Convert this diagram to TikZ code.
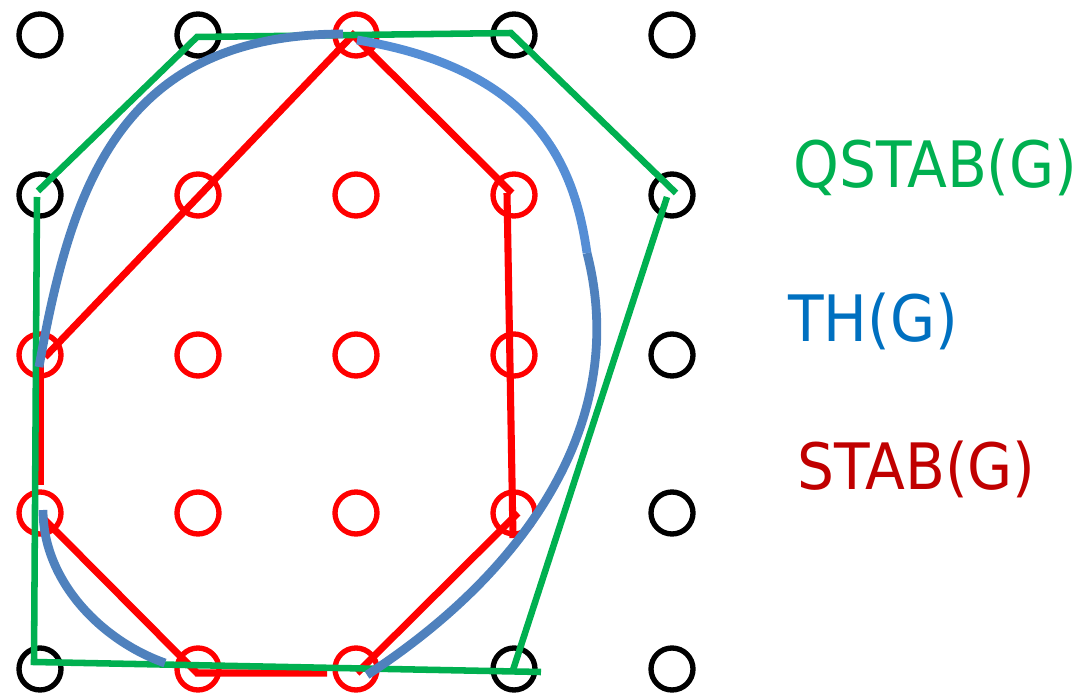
\documentclass[tikz,border=0pt]{standalone}
\usepackage{fontspec}
\newfontfamily\labelfont[FakeStretch=0.91]{DejaVu Sans}
\definecolor{QGreen}{HTML}{00B050}
\definecolor{THBlue}{HTML}{4F81BD}
\definecolor{THBlueLight}{HTML}{558ED5}
\definecolor{THLabel}{HTML}{0070C0}
\definecolor{STABRed}{HTML}{C00000}
\tikzset{
  pt/.style={circle,draw,line width=4pt,minimum size=31.5pt,inner sep=0pt},
  stab/.style={red,line width=5.3pt},
  qstab/.style={QGreen,line width=4.9pt},
  th/.style={THBlue,line width=6.6pt},
  lbl/.style={anchor=base west,inner sep=0pt,font=\labelfont\fontsize{48}{58}\selectfont}
}
\begin{document}
\begin{tikzpicture}[x=0.75pt,y=-0.75pt]
\useasboundingbox (0,0) rectangle (1082,695);

% lattice points, red = inside STAB(G)
\foreach \y/\row [count=\j from 0] in {35/{black,black,red,black,black},
    195/{black,red,red,red,black}, 355/{red,red,red,red,black},
    513/{red,red,red,red,black}, 669/{black,red,red,black,black}}
  \foreach \c [count=\i from 0] in \row
    \node[pt,draw=\c] (v\i\j) at ({40+158*\i},\y) {};

% STAB(G)
\draw[stab] (45,357) -- (353,35) -- (512,193);
\draw[stab] (507,193) -- (513,538);
\draw[stab] (518,513) -- (357,673);
\draw[stab] (43,518) -- (197,673) -- (327,673);
\draw[stab] (40,357) -- (40,485);

% QSTAB(G)
\draw[qstab] (541,672) -- (34,662) -- (37,197);
\draw[qstab] (38,191) -- (197,37) -- (511,33) -- (676,193);
\draw[qstab] (667,197) -- (513,670);

% TH(G)
\draw[th] (343,34) .. controls (120,34) and (71,187) .. (39,367);
\draw[th] (43,510) .. controls (43,580) and (100,640) .. (165,663);
\draw[th] (367,675) .. controls (527,571) and (630,420) .. (587,253);
\draw[th,THBlueLight] (587,253) .. controls (575,170) and (540,70) .. (357,40);

\node[lbl,QGreen] (qlabel) at (793,188) {QSTAB(G)};
\node[lbl,THLabel] (thlabel) at (788,342) {TH(G)};
\node[lbl,STABRed] (stablabel) at (797,489) {STAB(G)};
\end{tikzpicture}
\end{document}
